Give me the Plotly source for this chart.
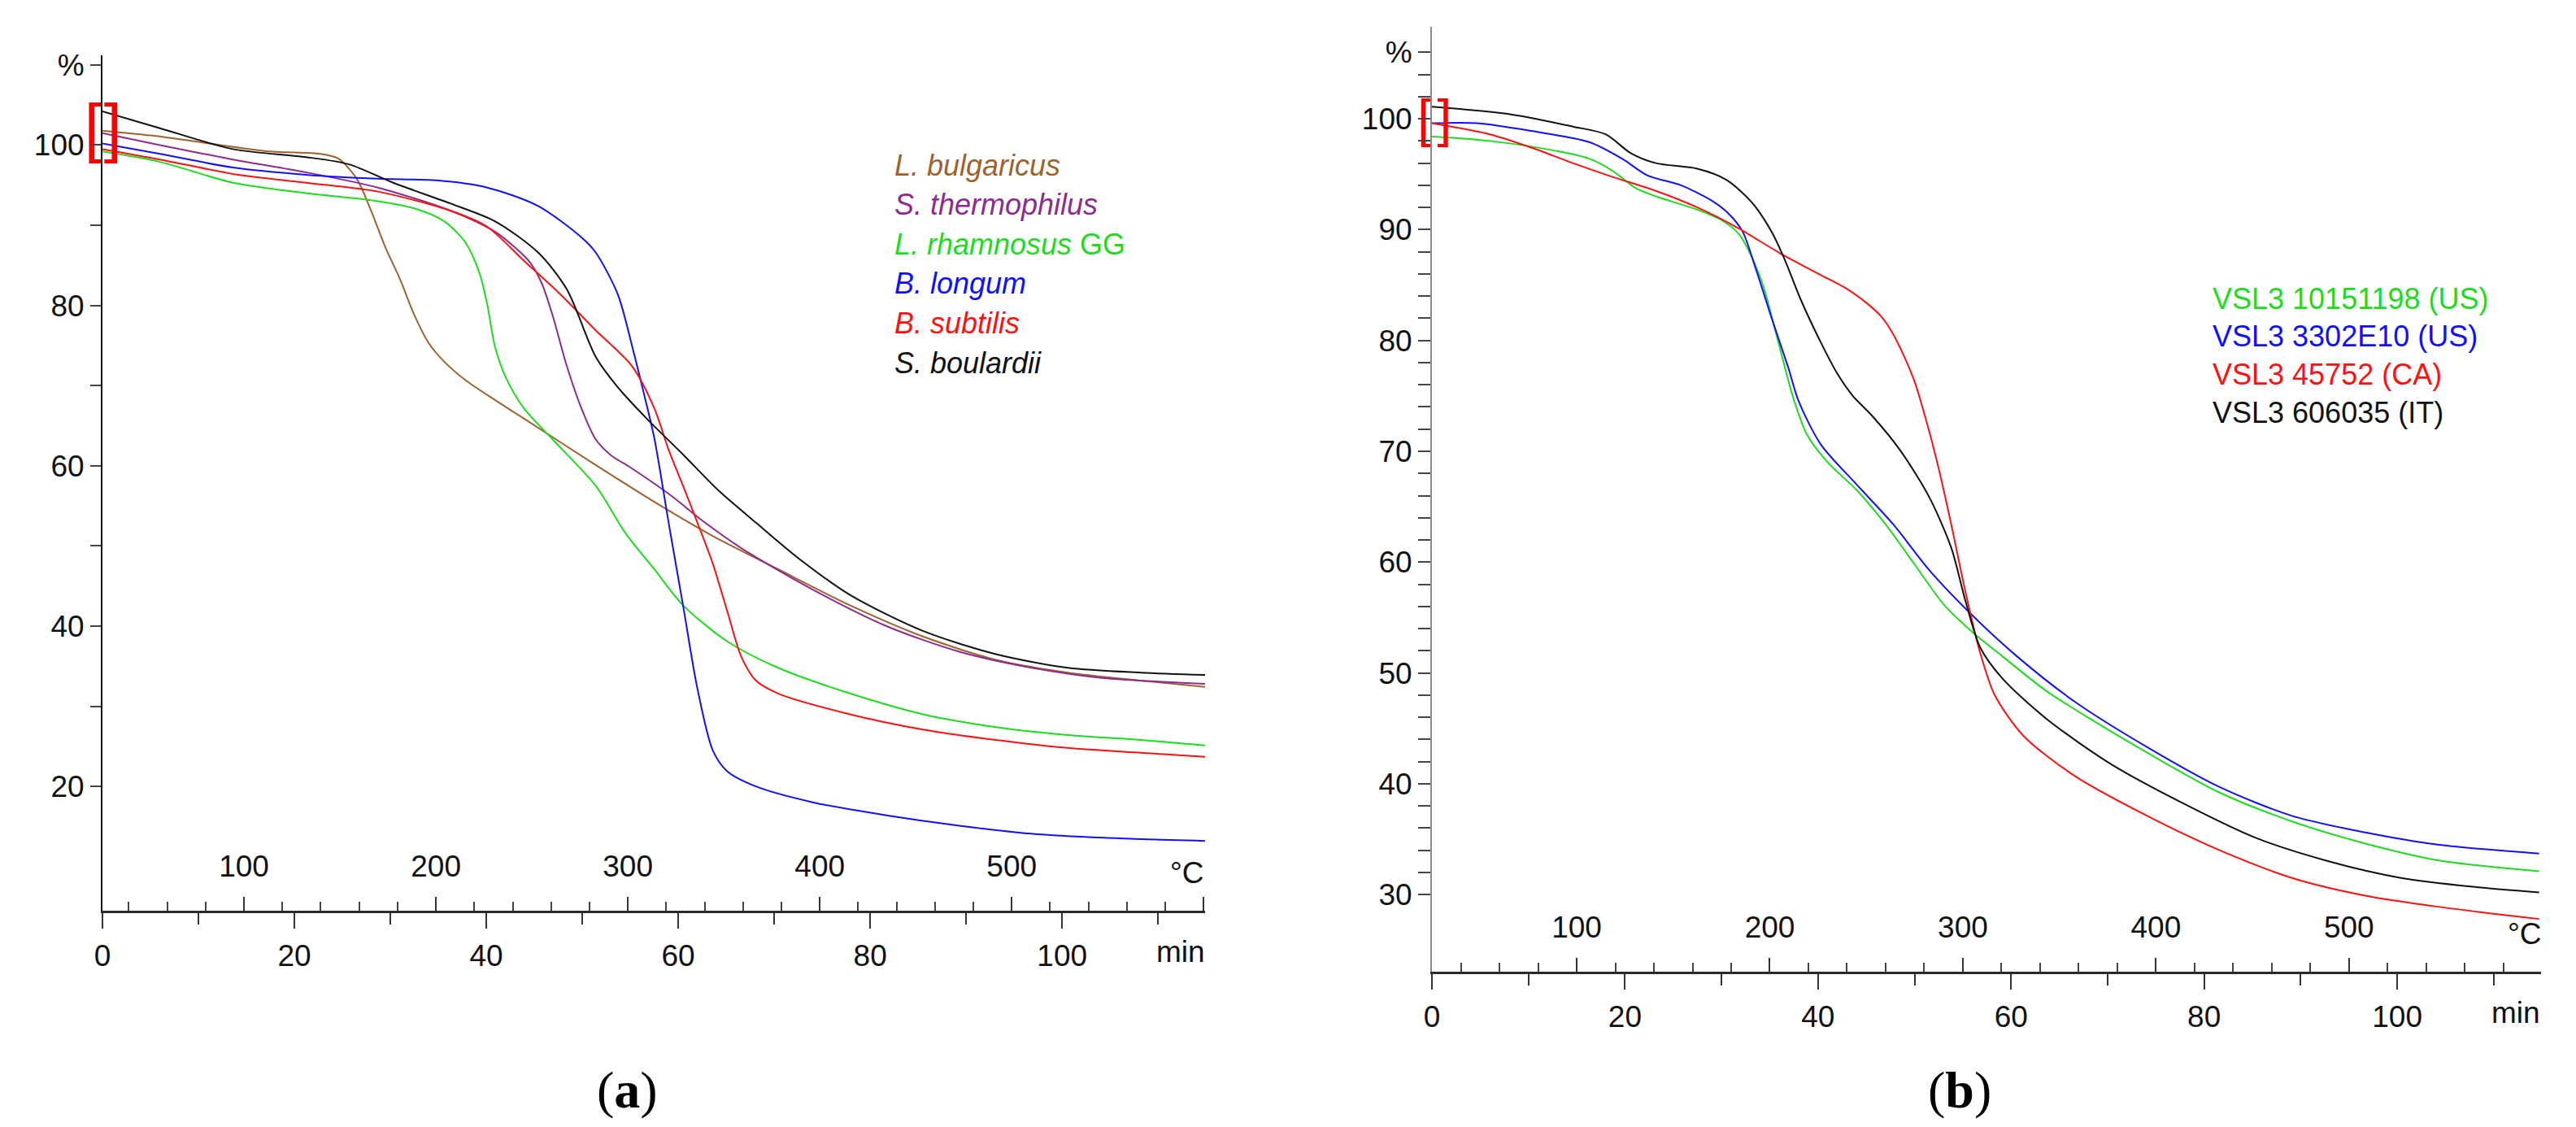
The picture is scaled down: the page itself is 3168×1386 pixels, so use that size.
import plotly.graph_objects as go

W, H = 3168, 1386

# ---- panel (a): single strains ----
a_names = ["<i>L. bulgaricus</i>", "<i>S. thermophilus</i>", "<i>L. rhamnosus</i> GG",
           "<i>B. longum</i>", "<i>B. subtilis</i>", "<i>S. boulardii</i>"]
a_colors = ["#A0622D", "#8E2B8E", "#1FDB1F", "#1010FF", "#FF1010", "#111111"]

a_t_bulgaricus = [0, 5, 10, 17.4, 22.7, 24.6, 26.5, 28.0, 29.5, 31.0, 32.5, 34.0, 35.6, 37.8,
                  40.9, 43.9, 51.4, 57.5, 63.5, 70.4, 77.9, 85.5, 93.1, 100.6, 108.2, 115]
a_pct_bulgaricus = [101.8, 101.2, 100.4, 99.2, 98.9, 98.3, 95.8, 91.8, 87.2, 83.3, 78.8, 75.3, 73.0, 70.7,
                    68.2, 65.9, 60.1, 55.5, 51.3, 47.1, 42.6, 38.7, 35.8, 34.2, 33.2, 32.4]

a_t_thermophilus = [0, 6, 13.6, 21.2, 28.7, 36.3, 40.9, 43.2, 44.6, 45.8, 46.9, 48.4, 49.9, 51.4,
                    53.0, 55.0, 59.0, 62.8, 66.6, 74.1, 81.7, 89.3, 96.8, 104.4, 115]
a_pct_thermophilus = [101.5, 100.0, 98.2, 96.6, 94.7, 91.8, 89.2, 87.0, 85.3, 82.7, 78.8, 72.4, 67.2, 63.3,
                      61.3, 59.8, 56.5, 52.9, 49.7, 44.5, 40.0, 36.8, 34.8, 33.5, 32.8]

a_t_rhamnosus = [0, 6.0, 13.6, 21.2, 28.7, 32.5, 35.6, 37.8, 39.3, 40.1, 40.9, 42.0, 43.9, 46.9,
                 51.4, 54.5, 57.5, 60.5, 65.1, 70.4, 77.9, 85.5, 93.1, 100.6, 108.2, 115]
a_pct_rhamnosus = [99.2, 97.9, 95.3, 94.0, 93.0, 92.1, 90.5, 87.9, 84.0, 80.1, 74.9, 71.1, 67.2, 63.3,
                   57.5, 51.6, 47.1, 42.6, 38.1, 34.8, 31.6, 29.0, 27.4, 26.4, 25.8, 25.1]

a_t_longum = [0, 6.0, 13.6, 21.2, 28.7, 34.8, 40.1, 45.4, 49.9, 51.4, 53.7, 55.2, 56.4, 57.5,
              59.0, 60.5, 62.0, 63.6, 65.1, 68.1, 74.1, 81.7, 89.3, 96.8, 104.4, 115]
a_pct_longum = [100.2, 98.9, 97.2, 96.3, 95.8, 95.6, 94.7, 92.4, 88.5, 86.6, 81.4, 74.9, 69.1, 63.5,
                52.9, 42.6, 32.2, 24.5, 21.9, 20.0, 18.0, 16.4, 15.1, 14.1, 13.6, 13.2]

a_t_subtilis = [0, 6.0, 13.6, 21.2, 28.7, 36.3, 40.1, 43.9, 47.7, 51.4, 55.2, 57.5, 59.0, 60.5,
                62.0, 63.6, 65.1, 66.6, 68.1, 70.4, 77.9, 85.5, 93.1, 100.6, 108.2, 115]
a_pct_subtilis = [99.5, 98.2, 96.4, 95.3, 94.2, 91.8, 89.8, 85.6, 81.4, 76.9, 72.4, 67.2, 62.0, 57.5,
                  52.9, 47.8, 41.9, 36.1, 33.2, 31.6, 29.0, 27.1, 25.8, 24.8, 24.2, 23.7]

a_t_boulardii = [0, 6.0, 13.6, 21.2, 25.7, 30.3, 36.3, 40.9, 45.4, 48.4, 51.4, 53.7, 56.7, 60.5,
                 64.3, 68.1, 72.6, 77.9, 85.5, 93.1, 100.6, 108.2, 115]
a_pct_boulardii = [104.2, 102.1, 99.5, 98.5, 97.6, 95.3, 92.7, 90.5, 86.6, 82.0, 73.6, 69.8, 65.9, 61.4,
                   56.8, 52.9, 48.4, 43.9, 39.4, 36.5, 34.8, 34.2, 33.9]

a_times = [a_t_bulgaricus, a_t_thermophilus, a_t_rhamnosus, a_t_longum, a_t_subtilis, a_t_boulardii]
a_values = [a_pct_bulgaricus, a_pct_thermophilus, a_pct_rhamnosus, a_pct_longum, a_pct_subtilis, a_pct_boulardii]

# ---- panel (b): VSL3 batches ----
b_names = ["VSL3 10151198 (US)", "VSL3 3302E10 (US)", "VSL3 45752 (CA)", "VSL3 606035 (IT)"]
b_colors = ["#1FDB1F", "#1010FF", "#FF1010", "#111111"]

b_t_10151198 = [0, 6.0, 12.9, 16.3, 18.9, 21.0, 23.2, 27.5, 30.1, 31.8, 33.1, 34.4, 35.6, 36.5, 37.3,
                38.8, 41.0, 44.0, 47.0, 50.0, 53.0, 56.1, 59.1, 63.6, 68.1, 74.1, 81.6, 89.1, 96.7, 104.2, 114.7]
b_pct_10151198 = [98.4, 98.0, 97.1, 96.4, 95.2, 93.8, 93.0, 91.8, 90.8, 89.6, 87.6, 84.7, 80.8, 77.8, 75.2,
                  71.6, 69.0, 66.5, 63.4, 59.8, 56.2, 53.6, 51.5, 48.4, 45.9, 42.8, 39.2, 36.6, 34.6, 33.1, 32.1]

b_t_3302E10 = [0, 4.7, 10.3, 16.3, 19.7, 22.3, 25.8, 29.2, 30.9, 32.2, 33.5, 35.2, 36.9, 38.0, 40.3,
               44.0, 47.8, 51.5, 56.1, 60.6, 66.6, 74.1, 81.6, 89.1, 96.7, 104.2, 114.7]
b_pct_3302E10 = [99.6, 99.6, 98.9, 97.9, 96.4, 94.9, 94.0, 92.5, 91.3, 89.8, 86.6, 82.0, 77.6, 74.5, 70.6,
                 67.0, 63.4, 59.3, 55.1, 51.5, 47.4, 43.3, 39.7, 37.1, 35.6, 34.5, 33.7]

b_t_45752 = [0, 6.0, 10.3, 14.6, 18.9, 23.2, 27.5, 31.8, 36.0, 40.3, 42.9, 45.0, 46.5, 47.7, 48.8,
             50.0, 51.2, 52.4, 53.8, 55.3, 56.8, 58.3, 61.3, 66.6, 74.1, 81.6, 89.1, 96.7, 104.2, 114.7]
b_pct_45752 = [99.6, 98.6, 97.4, 96.0, 94.7, 93.5, 92.0, 90.1, 87.9, 85.9, 84.7, 83.4, 82.2, 80.7, 78.8,
               76.3, 72.8, 68.8, 63.4, 57.2, 51.8, 48.0, 44.3, 40.7, 37.1, 34.0, 31.5, 29.9, 28.9, 27.8]

b_t_606035 = [0, 8.2, 14.6, 18.0, 20.6, 23.2, 27.5, 30.5, 33.1, 35.2, 36.5, 38.2, 40.3, 42.0, 43.6,
              45.5, 48.5, 51.5, 53.8, 55.3, 56.8, 59.1, 63.6, 70.3, 77.9, 85.4, 92.9, 100.4, 107.9, 114.7]
b_pct_606035 = [101.1, 100.4, 99.3, 98.6, 96.9, 96.0, 95.5, 94.5, 92.5, 89.8, 87.4, 83.7, 79.8, 77.0, 75.0,
                73.3, 70.1, 65.9, 61.3, 56.4, 52.3, 49.5, 45.9, 41.8, 38.2, 35.1, 33.0, 31.5, 30.7, 30.2]

b_times = [b_t_10151198, b_t_3302E10, b_t_45752, b_t_606035]
b_values = [b_pct_10151198, b_pct_3302E10, b_pct_45752, b_pct_606035]

# red sample brackets at the start of the curves
a_bracket_t = [0, 1.1]
a_bracket_pct = [101.5, 101.5]
b_bracket_t = [0, 1.3]
b_bracket_pct = [99.6, 99.6]

# axis ticks
a_ytick_vals = [10, 20, 30, 40, 50, 60, 70, 80, 90, 100, 110]
a_ytick_text = ["", "20", "", "40", "", "60", "", "80", "", "100", "%"]
b_ytick_vals = list(range(24, 108, 2))
b_ytick_text = [str(v) if v % 10 == 0 else "" for v in b_ytick_vals]
b_ytick_text[-1] = "%"


def px_x(p):
    return p / W


def px_y(p):
    return 1 - p / H


SANS = "Liberation Sans, Arial, sans-serif"
fig = go.Figure()

for name, t, v, c in zip(a_names, a_times, a_values, a_colors):
    fig.add_trace(go.Scatter(x=t, y=v, mode="lines", name=name, xaxis="x", yaxis="y",
                             line=dict(color=c, width=2, shape="spline", smoothing=0.8)))
for name, t, v, c in zip(b_names, b_times, b_values, b_colors):
    fig.add_trace(go.Scatter(x=t, y=v, mode="lines", name=name, xaxis="x3", yaxis="y2",
                             line=dict(color=c, width=2, shape="spline", smoothing=0.8)))

# empty traces so that the temperature axes get drawn
fig.add_trace(go.Scatter(x=[None], y=[None], xaxis="x2", yaxis="y", hoverinfo="skip"))
fig.add_trace(go.Scatter(x=[None], y=[None], xaxis="x4", yaxis="y2", hoverinfo="skip"))

fig.add_trace(go.Scatter(x=a_bracket_t, y=a_bracket_pct, mode="text", text=["[", "]"],
                         textposition=["middle left", "middle center"],
                         xaxis="x", yaxis="y", cliponaxis=False,
                         textfont=dict(size=80, color="#FF0000", family=SANS)))
fig.add_trace(go.Scatter(x=b_bracket_t, y=b_bracket_pct, mode="text", text=["[", "]"],
                         textposition=["middle left", "middle center"],
                         xaxis="x3", yaxis="y2", cliponaxis=False,
                         textfont=dict(size=64, color="#FF0000", family=SANS)))

tickfont = dict(family=SANS, size=37, color="#111111")


def time_axis(domain, anchor):
    return dict(domain=domain, anchor=anchor, range=[0, 114.9], showgrid=False, zeroline=False,
                showline=True, linewidth=3, linecolor="#2a2a2a", ticks="outside",
                tickmode="linear", tick0=0, dtick=20, ticklen=19, tickwidth=2, tickcolor="#333333",
                tickfont=tickfont, ticklabelstandoff=2,
                minor=dict(ticks="outside", dtick=10, tick0=0, ticklen=14, tickwidth=2, tickcolor="#333333"))


def temp_axis(over, anchor, rng):
    return dict(overlaying=over, anchor=anchor, side="bottom", range=rng, showgrid=False,
                zeroline=False, showline=False, ticks="inside", tickmode="linear", tick0=0,
                dtick=100, ticklen=17, tickwidth=2, tickcolor="#333333", tickfont=tickfont,
                ticklabelposition="inside", ticklabelstandoff=22,
                minor=dict(ticks="inside", dtick=20, tick0=0, ticklen=11, tickwidth=2, tickcolor="#444444"))


def pct_axis(domain, anchor, rng, vals, text, linecolor, ticklen):
    return dict(domain=domain, anchor=anchor, range=rng, showgrid=False, zeroline=False,
                showline=True, linewidth=2, linecolor=linecolor, ticks="outside",
                tickmode="array", tickvals=vals, ticktext=text, ticklen=ticklen, tickwidth=2,
                tickcolor="#444444", tickfont=tickfont)


fig.update_layout(
    width=W, height=H, margin=dict(l=0, r=0, t=0, b=0),
    template="none", paper_bgcolor="white", plot_bgcolor="white", showlegend=False,
    xaxis=time_axis([px_x(118), px_x(1474)], "y"),
    xaxis2=temp_axis("x", "y", [26.25, 600.75]),
    yaxis=pct_axis([px_y(1112), px_y(60)], "x", [4.5, 111.2], a_ytick_vals, a_ytick_text, "#111111", 13),
    xaxis3=time_axis([px_x(1753), px_x(3117)], "y2"),
    xaxis4=temp_axis("x3", "y2", [25, 599.5]),
    yaxis2=pct_axis([px_y(1187), px_y(25)], "x3", [23.04, 108.3], b_ytick_vals, b_ytick_text, "#888888", 15),
)

# legends written as coloured text
for i, (name, c) in enumerate(zip(a_names, a_colors)):
    fig.add_annotation(xref="paper", yref="paper", x=px_x(1090), y=px_y(195 + i * 48.6),
                       xanchor="left", yanchor="middle", text=name, showarrow=False,
                       font=dict(family=SANS, size=36, color=c))
for i, (name, c) in enumerate(zip(b_names, b_colors)):
    fig.add_annotation(xref="paper", yref="paper", x=px_x(2711), y=px_y(359 + i * 46.7),
                       xanchor="left", yanchor="middle", text=name, showarrow=False,
                       font=dict(family=SANS, size=36, color=c))

# unit labels at the ends of the bottom axes
units = [("min", 1444, 1162), ("°C", 1452, 1065), ("min", 3086, 1237), ("°C", 3097, 1140)]
for txt, ux, uy in units:
    fig.add_annotation(xref="paper", yref="paper", x=px_x(ux), y=px_y(uy), text=txt,
                       showarrow=False, xanchor="center", yanchor="middle", font=tickfont)

# panel captions
for txt, cx in [("a", 763), ("b", 2402)]:
    fig.add_annotation(xref="paper", yref="paper", x=px_x(cx), y=px_y(1332),
                       text="(<b>" + txt + "</b>)", showarrow=False, xanchor="center",
                       yanchor="middle", font=dict(family="Liberation Serif, Times New Roman, serif",
                                                   size=64, color="#000000"))

fig.write_html("out.html")
